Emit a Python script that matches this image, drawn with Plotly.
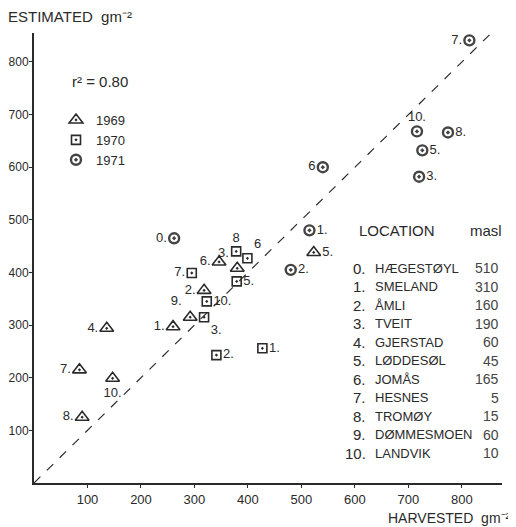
import plotly.graph_objects as go

# ---- data ----
# 1969 (triangles)
y69_ids = ["1.", "2.", "3.", "4.", "5.", "6.", "7.", "8.", "9.", "10."]
y69_harv = [260, 318, 380, 136, 523, 346, 85, 90, 292, 147]
y69_est = [297, 366, 408, 294, 438, 420, 215, 125, 315, 199]
y69_pos = ["middle left", "middle left", "top left", "middle left", "middle right",
           "middle left", "middle left", "middle left", "top left", "bottom center"]

# 1970 (squares)
y70_ids = ["1.", "2.", "3.", "5.", "6", "7.", "8", "10."]
y70_harv = [427, 341, 318, 379, 399, 295, 378, 323]
y70_est = [256, 243, 315, 383, 427, 399, 440, 345]
y70_pos = ["middle right", "middle right", "bottom right", "middle right", "top right",
           "middle left", "top center", "middle right"]

# 1971 (circles)
y71_ids = ["0.", "1.", "2.", "3.", "5.", "6", "7.", "8.", "10."]
y71_harv = [262, 515, 480, 720, 726, 540, 814, 774, 716]
y71_est = [465, 480, 405, 582, 632, 600, 841, 666, 668]
y71_pos = ["middle left", "middle right", "middle right", "middle right", "middle right",
           "middle left", "middle left", "middle right", "top center"]

loc_nums = ["0.", "1.", "2.", "3.", "4.", "5.", "6.", "7.", "8.", "9.", "10."]
loc_names = ["HÆGESTØYL", "SMELAND", "ÅMLI", "TVEIT", "GJERSTAD", "LØDDESØL",
             "JOMÅS", "HESNES", "TROMØY", "DØMMESMOEN", "LANDVIK"]
loc_masl = [510, 310, 160, 190, 60, 45, 165, 5, 15, 60, 10]

x_ticks = [100, 200, 300, 400, 500, 600, 700, 800]
y_ticks = [100, 200, 300, 400, 500, 600, 700, 800]
r2_text = "r² = 0.80"

FONT = "Liberation Sans Narrow, Liberation Sans, Arial, sans-serif"
INK = "#2a2a2a"

# the page body has an 8px margin; size the figure so the plot lands where the
# reference has it in the 516x527 window
OFF = 8
W, H = 508, 519
L, R, T, B = 26, 14, 25, 44
PW, PH = W - L - R, H - T - B


def px(x):
    """window pixel x -> paper x"""
    return (x - OFF - L) / PW


def py(y):
    """window pixel y -> paper y"""
    return (H - B - (y - OFF)) / PH


fig = go.Figure()

# 1:1 line
fig.add_trace(go.Scatter(x=[0, 855], y=[0, 855], mode="lines",
                         line=dict(color=INK, width=1.2, dash="dash"),
                         showlegend=False, hoverinfo="skip"))

fig.add_trace(go.Scatter(
    x=y69_harv, y=y69_est, mode="markers+text", name="1969",
    text=y69_ids, textposition=y69_pos,
    textfont=dict(family=FONT, size=13, color=INK),
    marker=dict(symbol="triangle-up-open-dot", size=12, color=INK,
                line=dict(width=1.6, color=INK))))

fig.add_trace(go.Scatter(
    x=y70_harv, y=y70_est, mode="markers+text", name="1970",
    text=y70_ids, textposition=y70_pos,
    textfont=dict(family=FONT, size=13, color=INK),
    marker=dict(symbol="square-open-dot", size=9, color=INK,
                line=dict(width=1.6, color=INK))))

fig.add_trace(go.Scatter(
    x=y71_harv, y=y71_est, mode="markers+text", name="1971",
    text=y71_ids, textposition=y71_pos,
    textfont=dict(family=FONT, size=13, color=INK),
    marker=dict(symbol="circle-open-dot", size=10, color="#444444",
                line=dict(width=2.4, color="#555555"))))

annotations = []
# axis titles
annotations.append(dict(xref="paper", yref="paper", x=px(6), y=py(17),
                        xanchor="left", yanchor="middle", showarrow=False,
                        text="ESTIMATED  gm⁻²",
                        font=dict(family=FONT, size=15, color=INK)))
annotations.append(dict(xref="paper", yref="paper", x=px(513), y=py(518),
                        xanchor="right", yanchor="middle", showarrow=False,
                        text="HARVESTED  gm⁻²",
                        font=dict(family=FONT, size=14, color=INK)))
# r squared
annotations.append(dict(xref="paper", yref="paper", x=px(70), y=py(81),
                        xanchor="left", yanchor="middle", showarrow=False,
                        text=r2_text, font=dict(family=FONT, size=15, color=INK)))
# location table
annotations.append(dict(xref="paper", yref="paper", x=px(357), y=py(230),
                        xanchor="left", yanchor="middle", showarrow=False,
                        text="LOCATION", font=dict(family=FONT, size=15, color=INK)))
annotations.append(dict(xref="paper", yref="paper", x=px(468), y=py(230),
                        xanchor="left", yanchor="middle", showarrow=False,
                        text="masl", font=dict(family=FONT, size=15, color=INK)))
for i, (n, name, m) in enumerate(zip(loc_nums, loc_names, loc_masl)):
    yy = 268 + i * 18.5
    annotations.append(dict(xref="paper", yref="paper", x=px(368), y=py(yy),
                            xanchor="right", yanchor="middle", showarrow=False,
                            text=n, font=dict(family=FONT, size=15, color=INK)))
    annotations.append(dict(xref="paper", yref="paper", x=px(373), y=py(yy),
                            xanchor="left", yanchor="middle", showarrow=False,
                            text=name, font=dict(family=FONT, size=13, color=INK)))
    annotations.append(dict(xref="paper", yref="paper", x=px(501), y=py(yy),
                            xanchor="right", yanchor="middle", showarrow=False,
                            text=str(m), font=dict(family=FONT, size=14, color="#444")))

fig.update_layout(
    width=W, height=H,
    margin=dict(l=L, r=R, t=T, b=B),
    paper_bgcolor="white", plot_bgcolor="white",
    font=dict(family=FONT, size=13, color=INK),
    showlegend=True,
    legend=dict(x=px(56), y=py(105), xanchor="left", yanchor="top",
                bgcolor="rgba(0,0,0,0)", font=dict(family=FONT, size=13, color=INK),
                itemwidth=30, tracegroupgap=0),
    annotations=annotations,
)
fig.update_xaxes(range=[0, 875], tickvals=x_ticks, ticks="outside", ticklen=3,
                 tickcolor=INK, showgrid=False, zeroline=False,
                 showline=True, linecolor=INK, linewidth=2, automargin=False,
                 tickfont=dict(family=FONT, size=13, color=INK))
fig.update_yaxes(range=[0, 855], tickvals=y_ticks, ticks="outside", ticklen=3,
                 tickcolor=INK, showgrid=False, zeroline=False,
                 showline=True, linecolor=INK, linewidth=2, automargin=False,
                 ticklabelstandoff=-2,
                 tickfont=dict(family=FONT, size=12, color=INK))

fig.write_html("out.html")
